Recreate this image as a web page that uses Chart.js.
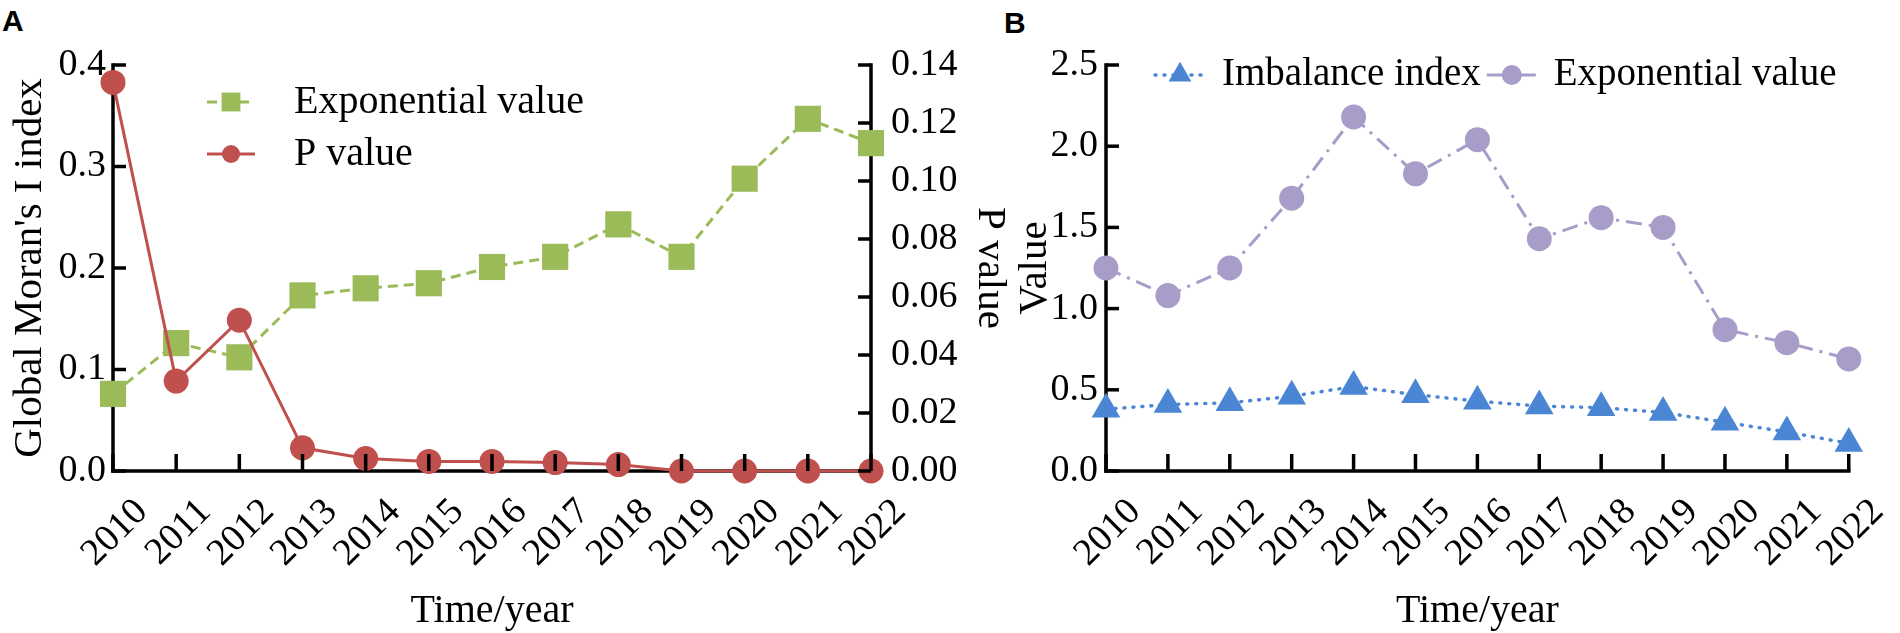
<!DOCTYPE html>
<html>
<head>
<meta charset="utf-8">
<script src="https://cdn.jsdelivr.net/npm/chart.js@4/dist/chart.umd.min.js"></script>
<style>
    html, body { margin: 0; padding: 0; background: #fff; }
    body { width: 1900px; height: 633px; position: relative; overflow: hidden; }
    canvas { position: absolute; top: 0; }
    #chartA { left: 0; }
    #chartB { left: 1000px; }
    .panel-tag { position: absolute; font: bold 30px "Liberation Sans", Arial, sans-serif; line-height: 1; color: #000; }
</style>
</head>
<body>
<div class="panel-tag" style="left:2px;top:6px">A</div>
<div class="panel-tag" style="left:1004px;top:8px">B</div>
<canvas id="chartA" width="1010" height="633" style="width:1010px;height:633px"></canvas>
<canvas id="chartB" width="900" height="633" style="width:900px;height:633px"></canvas>
<script>
    var years = ['2010', '2011', '2012', '2013', '2014', '2015', '2016', '2017', '2018', '2019', '2020', '2021', '2022'];

    // panel A: Global Moran's I
    var moranExponential = [0.076, 0.126, 0.112, 0.173, 0.180, 0.185, 0.201, 0.211, 0.243, 0.211, 0.288, 0.347, 0.323];
    var moranPValue = [0.134, 0.031, 0.052, 0.008, 0.0043, 0.0033, 0.0033, 0.0029, 0.0022, 0, 0, 0, 0];
    var moranTicks = [0, 0.1, 0.2, 0.3, 0.4];
    var pValueTicks = [0, 0.02, 0.04, 0.06, 0.08, 0.10, 0.12, 0.14];

    // panel B: imbalance
    var imbalanceIndex = [0.38, 0.41, 0.42, 0.46, 0.52, 0.47, 0.43, 0.40, 0.39, 0.36, 0.30, 0.24, 0.17];
    var imbalanceExponential = [1.25, 1.08, 1.25, 1.68, 2.18, 1.83, 2.04, 1.43, 1.56, 1.50, 0.87, 0.79, 0.69];
    var valueTicks = [0, 0.5, 1.0, 1.5, 2.0, 2.5];

    var SERIF = '"Liberation Serif", "Times New Roman", serif';
    Chart.defaults.font.family = SERIF;
    Chart.defaults.color = '#000';

    // axis lines under the data, inward tick marks on top of it
    var insideAxes = {
        id: 'insideAxes',
        beforeDatasetsDraw: function (chart, args, opts) {
            var ctx = chart.ctx, area = chart.chartArea;
            ctx.save();
            ctx.strokeStyle = '#000';
            ctx.lineWidth = opts.width;
            ctx.lineCap = 'square';
            Object.keys(chart.scales).forEach(function (id) {
                var s = chart.scales[id];
                ctx.beginPath();
                if (s.position === 'bottom') {
                    ctx.moveTo(area.left, area.bottom); ctx.lineTo(area.right, area.bottom);
                } else if (s.position === 'left') {
                    ctx.moveTo(area.left, area.top); ctx.lineTo(area.left, area.bottom);
                } else if (s.position === 'right') {
                    ctx.moveTo(area.right, area.top); ctx.lineTo(area.right, area.bottom);
                }
                ctx.stroke();
            });
            ctx.restore();
        },
        afterDatasetsDraw: function (chart, args, opts) {
            var ctx = chart.ctx, area = chart.chartArea;
            ctx.save();
            ctx.strokeStyle = '#000';
            ctx.lineWidth = opts.width;
            ctx.lineCap = 'butt';
            Object.keys(chart.scales).forEach(function (id) {
                var s = chart.scales[id];
                s.ticks.forEach(function (t, i) {
                    var p = s.getPixelForTick(i);
                    ctx.beginPath();
                    if (s.position === 'bottom') {
                        ctx.moveTo(p, area.bottom); ctx.lineTo(p, area.bottom - opts.tickX);
                    } else if (s.position === 'left') {
                        ctx.moveTo(area.left, p); ctx.lineTo(area.left + opts.tickY, p);
                    } else if (s.position === 'right') {
                        ctx.moveTo(area.right, p); ctx.lineTo(area.right - opts.tickY, p);
                    }
                    ctx.stroke();
                });
            });
            ctx.restore();
        }
    };

    // legend drawn inside the plot, built from the datasets' own styles
    var inlineLegend = {
        id: 'inlineLegend',
        afterDraw: function (chart, args, opts) {
            var ctx = chart.ctx;
            var x = opts.x, y = opts.y;
            ctx.save();
            ctx.font = opts.fontSize + 'px ' + SERIF;
            ctx.textBaseline = 'middle';
            ctx.textAlign = 'left';
            chart.data.datasets.forEach(function (ds) {
                ctx.strokeStyle = ds.borderColor;
                ctx.lineWidth = ds.borderWidth;
                ctx.lineCap = ds.borderCapStyle || 'butt';
                ctx.setLineDash(ds.borderDash || []);
                ctx.beginPath();
                ctx.moveTo(x, y);
                ctx.lineTo(x + opts.lineLen, y);
                ctx.stroke();
                ctx.setLineDash([]);
                ctx.fillStyle = ds.pointBackgroundColor;
                Chart.helpers.drawPoint(ctx, {
                    pointStyle: ds.pointStyle,
                    radius: ds.pointRadius * opts.pointScale,
                    rotation: 0,
                    borderWidth: 0
                }, x + opts.lineLen / 2, y);
                var tx = x + opts.lineLen + opts.gap;
                ctx.fillStyle = '#000';
                ctx.fillText(ds.label, tx, y);
                if (opts.horizontal) {
                    x = tx + ctx.measureText(ds.label).width + opts.itemGap;
                } else {
                    y += opts.rowH;
                }
            });
            ctx.restore();
        }
    };

    function fixedTicks(values) {
        return function (scale) {
            scale.ticks = values.map(function (v) { return { value: v }; });
        };
    }

    function xAxis(height) {
        return {
            type: 'category',
            position: 'bottom',
            grid: { display: false, drawTicks: false },
            border: { display: false },
            ticks: {
                autoSkip: false,
                maxRotation: 45,
                minRotation: 45,
                padding: 19,
                labelOffset: 29,
                font: { size: 38 }
            },
            title: {
                display: true,
                text: 'Time/year',
                font: { size: 40, lineHeight: 1 },
                padding: { top: 0, bottom: 2 }
            },
            afterFit: function (s) { s.height = height; }
        };
    }

    new Chart(document.getElementById('chartA'), {
        type: 'line',
        data: {
            labels: years,
            datasets: [
                {
                    label: 'Exponential value',
                    data: moranExponential,
                    yAxisID: 'y',
                    order: 1,
                    borderColor: '#9bbb59',
                    borderWidth: 3,
                    borderDash: [10, 6],
                    pointStyle: 'rect',
                    pointRadius: 18.5,
                    pointBackgroundColor: '#9bbb59',
                    pointBorderWidth: 0,
                    clip: false
                },
                {
                    label: 'P value',
                    data: moranPValue,
                    yAxisID: 'y1',
                    order: 0,
                    borderColor: '#c0504d',
                    borderWidth: 3,
                    pointStyle: 'circle',
                    pointRadius: 12.5,
                    pointBackgroundColor: '#c0504d',
                    pointBorderWidth: 0,
                    clip: false
                }
            ]
        },
        options: {
            responsive: false,
            devicePixelRatio: 1,
            animation: false,
            events: [],
            layout: { padding: { top: 65, left: 0, right: 0, bottom: 0 } },
            plugins: {
                legend: { display: false },
                tooltip: { enabled: false },
                insideAxes: { width: 3.5, tickX: 17, tickY: 13 },
                inlineLegend: { x: 207, y: 102, lineLen: 48, gap: 39, rowH: 52, pointScale: 0.72, fontSize: 40 }
            },
            scales: {
                x: xAxis(162),
                y: {
                    position: 'left',
                    min: 0,
                    max: 0.4,
                    afterBuildTicks: fixedTicks(moranTicks),
                    grid: { display: false, drawTicks: false },
                    border: { display: false },
                    ticks: {
                        padding: 7,
                        font: { size: 38 },
                        callback: function (v) { return Number(v).toFixed(1); }
                    },
                    title: {
                        display: true,
                        text: "Global Moran's I index",
                        font: { size: 41, lineHeight: 1 },
                        padding: { top: 9.5, bottom: 0 }
                    },
                    afterFit: function (s) { s.width = 113; }
                },
                y1: {
                    position: 'right',
                    min: 0,
                    max: 0.14,
                    afterBuildTicks: fixedTicks(pValueTicks),
                    grid: { display: false, drawTicks: false },
                    border: { display: false },
                    ticks: {
                        padding: 20,
                        font: { size: 38 },
                        callback: function (v) { return Number(v).toFixed(2); }
                    },
                    title: {
                        display: true,
                        text: 'P value',
                        font: { size: 41, lineHeight: 1 },
                        padding: { top: 0, bottom: 0 }
                    },
                    afterFit: function (s) { s.width = 139; }
                }
            }
        },
        plugins: [insideAxes, inlineLegend]
    });

    new Chart(document.getElementById('chartB'), {
        type: 'line',
        data: {
            labels: years,
            datasets: [
                {
                    label: 'Imbalance index',
                    data: imbalanceIndex,
                    borderColor: '#4a86d4',
                    borderWidth: 3.5,
                    borderDash: [1, 8],
                    borderCapStyle: 'round',
                    pointStyle: 'triangle',
                    pointRadius: 16.5,
                    pointBackgroundColor: '#4a86d4',
                    pointBorderWidth: 0,
                    clip: false
                },
                {
                    label: 'Exponential value',
                    data: imbalanceExponential,
                    borderColor: '#a89cc8',
                    borderWidth: 3,
                    borderDash: [16, 7, 3, 7],
                    pointStyle: 'circle',
                    pointRadius: 12.5,
                    pointBackgroundColor: '#a89cc8',
                    pointBorderWidth: 0,
                    clip: false
                }
            ]
        },
        options: {
            responsive: false,
            devicePixelRatio: 1,
            animation: false,
            events: [],
            layout: { padding: { top: 65, left: 0, right: 35, bottom: 0 } },
            plugins: {
                legend: { display: false },
                tooltip: { enabled: false },
                insideAxes: { width: 3.5, tickX: 17, tickY: 13 },
                inlineLegend: { x: 155, y: 75, horizontal: true, lineLen: 50, gap: 17, itemGap: 6, pointScale: 0.8, fontSize: 39 }
            },
            scales: {
                x: xAxis(162),
                y: {
                    position: 'left',
                    min: 0,
                    max: 2.5,
                    afterBuildTicks: fixedTicks(valueTicks),
                    grid: { display: false, drawTicks: false },
                    border: { display: false },
                    ticks: {
                        padding: 8,
                        font: { size: 38 },
                        callback: function (v) { return Number(v).toFixed(1); }
                    },
                    title: {
                        display: true,
                        text: 'Value',
                        font: { size: 41, lineHeight: 1 },
                        padding: { top: 14.5, bottom: 0 }
                    },
                    afterFit: function (s) { s.width = 106; }
                }
            }
        },
        plugins: [insideAxes, inlineLegend]
    });
</script>
</body>
</html>
